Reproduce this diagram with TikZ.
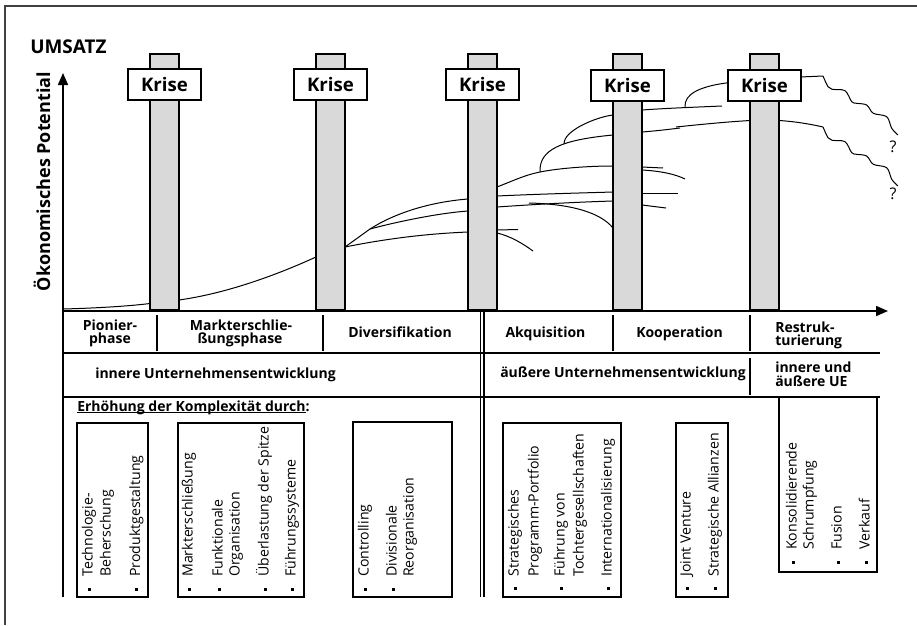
\documentclass[tikz,border=0pt]{standalone}
\usepackage{fontspec}
\setmainfont{Open Sans}
\usetikzlibrary{arrows.meta,calc}
\newcommand\myul[1]{\setbox0=\hbox{#1}\rlap{\rule[-1.8pt]{\wd0}{0.75pt}}\box0}
\begin{document}
\begin{tikzpicture}[x=0.75pt,y=-0.75pt,
  pillar/.style={fill=black!15, draw=black, line width=0.8pt},
  krise/.style={draw, fill=white, line width=1.3pt, minimum width=54.75pt, minimum height=23.25pt, inner sep=0pt, font=\fontsize{14}{16}\selectfont\bfseries},
  curve/.style={line width=0.75pt},
  axis/.style={line width=1.3pt},
  tline/.style={line width=1pt},
  hd/.style={font=\fontsize{10.5}{12}\selectfont\bfseries, inner sep=0pt},
  itm/.style={font=\fontsize{10.6}{12}\selectfont, rotate=90, anchor=mid west, inner sep=0pt},
  lbox/.style={line width=1.1pt},
  blt/.style={fill=black},
  wig/.style={line width=0.75pt},
  qm/.style={font=\fontsize{12}{14}\selectfont, inner sep=0pt}
]
\useasboundingbox (0,0) rectangle (917,625);
% frame
\draw[black!75, line width=0.8pt] (917,6) -- (5,6) -- (5,625);

% titles
\node[anchor=base west, inner sep=0pt, font=\fontsize{14.2}{16}\selectfont\bfseries] (umsatz) at (30,53) {UMSATZ};
\node[anchor=base, rotate=90, inner sep=0pt, font=\fontsize{13.5}{16}\selectfont\bfseries] (oek) at (50,181.5) {Ökonomisches Potential};

% pillars
\filldraw[pillar] (150,54) rectangle (179,310);
\filldraw[pillar] (316,54) rectangle (345,310);
\filldraw[pillar] (468,54) rectangle (497,310);
\filldraw[pillar] (613,54) rectangle (642,310);
\filldraw[pillar] (750,54) rectangle (779,310);

% curves
\draw[curve] (63,309) .. controls (100,308) and (130,306) .. (150,303.5);
\draw[curve] (179,300) .. controls (222,294) and (270,278) .. (316,257);
\draw[curve] (345,247) -- (370,229);
\draw[curve] (345,247) .. controls (380,240) and (420,234) .. (468,232);
\draw[curve] (370,229) .. controls (400,221) and (440,213) .. (468,211);
\draw[curve] (370,229) .. controls (395,213) and (430,202) .. (468,199);
% between pillar 3 and 4
\draw[curve] (497,187) .. controls (515,180) and (525,175) .. (540,172) .. controls (560,168) and (590,166) .. (613,166);
\draw[curve] (540,172) .. controls (539,150) and (560,140) .. coordinate[pos=0.6] (b1) (613,135);
\draw[curve] (b1) .. controls ($(b1)+(-1,-13)$) and (596,117) .. (613,115);
\draw[curve] (497,196) .. controls (540,194) and (580,193) .. (613,192);
\draw[curve] (497,207) .. controls (540,204) and (580,202) .. (613,201);
\draw[curve] (529,203) .. controls (570,204) and (600,212) .. (613,228);
\draw[curve] (497,230) -- (518,229.5);
\draw[curve] (497,233) .. controls (510,236) and (522,243) .. (533,251);
% between pillar 4 and 5
\draw[curve] (642,110) .. controls (670,108) and (700,107) .. (722,106);
\draw[curve] (685,107) .. controls (684,94) and (700,86) .. (730,82.5);
\draw[curve] (642,132) .. controls (655,131) and (668,129.5) .. (680,128);
\draw[curve] (676,127) .. controls (700,124.5) and (725,122) .. (750,120.5);
\draw[curve] (642,167) -- (663,168);
\draw[curve] (642,170) .. controls (660,171) and (675,174) .. (685,179);
\draw[curve] (642,193) -- (678,193);
\draw[curve] (642,205) -- (666,208);
% after pillar 5
\draw[curve] (779,120.5) .. controls (795,121.5) and (810,124) .. (823,127);
\draw[curve] (800,77) -- (823,76);
\draw[wig, shift={(823,76)}] plot[smooth, tension=0.55] coordinates {(0,0) (5,10.7) (9,13.3) (22,14.7) (28.7,25.7) (33.7,27.3) (43.7,29) (50.3,37.3) (63.7,40.7) (68.7,52.3) (75,59)};
\draw[wig, shift={(823,127)}] plot[smooth, tension=0.55] coordinates {(0,0) (5,10.7) (9,13.3) (22,14.7) (28.7,25.7) (33.7,27.3) (43.7,29) (50.3,37.3) (63.7,40.7) (68.7,52.3) (75,59)};
\node[qm] (q1) at (893,147) {?};
\node[qm] (q2) at (893,194) {?};

% Krise boxes
\node[krise] (k1) at (164.5,84.5) {Krise};
\node[krise] (k2) at (330.5,84.5) {Krise};
\node[krise] (k3) at (482.5,84.5) {Krise};
\node[krise] (k4) at (627.5,85.5) {Krise};
\node[krise] (k5) at (764.5,85.5) {Krise};

% axes
\draw[axis, -{Triangle[length=9pt,width=7.5pt]}] (63,311) -- (63,73);
\draw[axis, -{Triangle[length=9pt,width=7.5pt]}] (62.5,311) -- (888,311);

% table lines
\draw[tline] (63,311) -- (63,597);
\draw[tline] (63,353) -- (880,353);
\draw[tline] (63,397) -- (880,397);
\draw[tline] (480.5,311) -- (480.5,597);
\draw[tline] (484,311) -- (484,597);
\draw[tline] (157,315) -- (157,351);
\draw[tline] (323,315) -- (323,351);
\draw[tline] (613,315) -- (613,351);
\draw[tline] (750,315) -- (750,351);
\draw[tline] (750,358) -- (750,395);

% row 1
\node[hd, anchor=base] (p1) at (110,330) {Pionier-};
\node[hd, anchor=base] (p2) at (110,343) {phase};
\node[hd, anchor=base] (m1) at (241,330) {Markterschlie-};
\node[hd, anchor=base] (m2) at (240,343) {ßungsphase};
\node[hd, anchor=base] (dv) at (400,337) {Diversifikation};
\node[hd, anchor=base] (ak) at (545.5,337) {Akquisition};
\node[hd, anchor=base] (ko) at (679.5,337) {Kooperation};
\node[hd, anchor=base west] (r1) at (775,332) {Restruk-};
\node[hd, anchor=base west] (r2) at (775,345) {turierung};
% row 2
\node[hd, anchor=base west] (iu) at (95,378) {innere Unternehmensentwicklung};
\node[hd, anchor=base west] (au) at (500,377) {äußere Unternehmensentwicklung};
\node[hd, anchor=base west] (ia) at (775,372) {innere und};
\node[hd, anchor=base west] (ib) at (775,386) {äußere UE};
% row 3 heading
\node[hd, anchor=base west] (eh) at (77,411) {\myul{Erhöhung der Komplexität durch}:};

% bottom boxes
\draw[lbox] (77,423) rectangle (148,597);
\draw[lbox] (178,423) rectangle (304,597);
\draw[lbox] (353,422) rectangle (452,597);
\draw[lbox] (503,423) rectangle (621,597);
\draw[lbox] (676,423) rectangle (728,597);
\draw[lbox] (779,397) rectangle (877,572);

% box A
\node[itm] (a1) at (89,577) {Technologie-};
\node[itm] (a2) at (107,577) {Beherschung};
\node[itm] (a3) at (136.5,577) {Produktgestaltung};
\fill[blt] (87.5,587.5) rectangle +(3,3);
\fill[blt] (135,587.5) rectangle +(3,3);
% box B
\node[itm] (b1t) at (189,577) {Markterschließung};
\node[itm] (b2t) at (219,577) {Funktionale};
\node[itm] (b3t) at (236,577) {Organisation};
\node[itm] (b4t) at (265,577) {Überlastung der Spitze};
\node[itm] (b5t) at (292,577) {Führungssysteme};
\fill[blt] (187.5,587.5) rectangle +(3,3);
\fill[blt] (217.5,587.5) rectangle +(3,3);
\fill[blt] (263.5,587.5) rectangle +(3,3);
\fill[blt] (290.5,587.5) rectangle +(3,3);
% box C
\node[itm] (c1) at (365,577) {Controlling};
\node[itm] (c2) at (393,577) {Divisionale};
\node[itm] (c3) at (410,577) {Reorganisation};
\fill[blt] (363.5,587.5) rectangle +(3,3);
\fill[blt] (391.5,587.5) rectangle +(3,3);
% box D
\node[itm] (d1) at (515,577) {Strategisches};
\node[itm] (d2) at (535,577) {Programm-Portfolio};
\node[itm] (d3) at (561,577) {Führung von};
\node[itm] (d4) at (580,577) {Tochtergesellschaften};
\node[itm] (d5) at (608,577) {Internationalisierung};
\fill[blt] (513.5,586.5) rectangle +(3,3);
\fill[blt] (559.5,586.5) rectangle +(3,3);
\fill[blt] (606.5,586.5) rectangle +(3,3);
% box E
\node[itm] (e1) at (687,577) {Joint Venture};
\node[itm] (e2) at (715,577) {Strategische Allianzen};
\fill[blt] (685.5,586.5) rectangle +(3,3);
\fill[blt] (713.5,586.5) rectangle +(3,3);
% box F
\node[itm] (f1) at (793,550) {Konsolidierende};
\node[itm] (f2) at (810,550) {Schrumpfung};
\node[itm] (f3) at (838,550) {Fusion};
\node[itm] (f4) at (866,550) {Verkauf};
\fill[blt] (791.5,560.5) rectangle +(3,3);
\fill[blt] (836.5,560.5) rectangle +(3,3);
\fill[blt] (864.5,560.5) rectangle +(3,3);
\end{tikzpicture}
\end{document}
